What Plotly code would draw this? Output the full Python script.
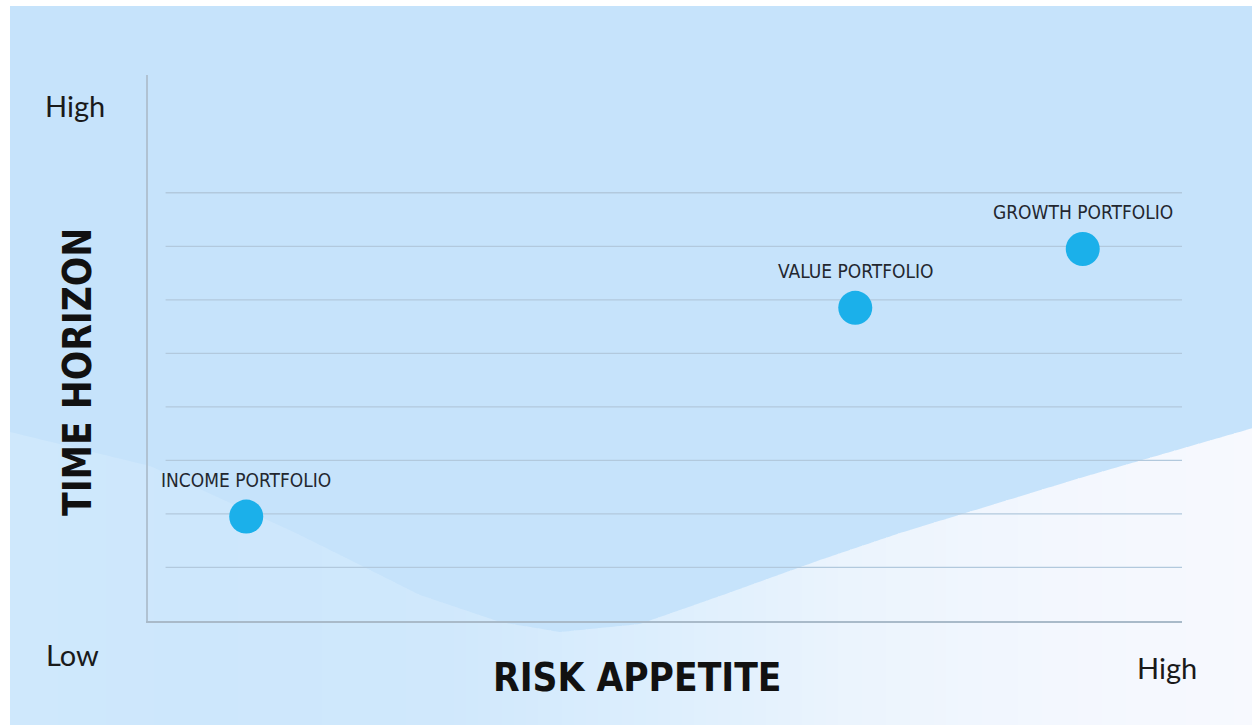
import plotly.graph_objects as go

# ---- data ----
portfolios = ["INCOME PORTFOLIO", "VALUE PORTFOLIO", "GROWTH PORTFOLIO"]
risk_appetite = [0.95, 6.84, 9.04]
time_horizon = [1.95, 5.85, 6.95]
grid_levels = [1, 2, 3, 4, 5, 6, 7, 8]
y_axis_low, y_axis_high = "Low", "High"
x_axis_high = "High"
x_title = "RISK APPETITE"
y_title = "TIME HORIZON"

W, H = 1252, 725
L, R, T, B = 148, 1182, 75, 621
PW, PH = R - L, B - T


def px2paper(x, y):
    return (x - L) / PW, (B - y) / PH


shapes = []
# base light-blue background (white border on top and left)
x0, y0 = px2paper(10, 730)
x1, y1 = px2paper(1260, 6)
shapes.append(dict(type="rect", xref="paper", yref="paper", x0=x0, y0=y0, x1=x1, y1=y1,
                   fillcolor="#c6e3fb", line=dict(width=0), layer="below"))

# lighter wave region in the lower part
wave = [(10, 432), (150, 466), (300, 535), (420, 595), (500, 622), (560, 632), (640, 624),
        (720, 596), (820, 560), (900, 533), (1080, 478), (1260, 426)]


def curve_y(x):
    for (xa, ya), (xb, yb) in zip(wave[:-1], wave[1:]):
        if xa <= x <= xb:
            t = (x - xa) / (xb - xa)
            return ya + t * (yb - ya)
    return wave[-1][1]


stops = [(10, (0xcf, 0xe8, 0xfc)), (200, (0xcd, 0xe7, 0xfc)), (450, (0xd0, 0xe8, 0xfc)),
         (650, (0xdc, 0xee, 0xfd)), (850, (0xeb, 0xf4, 0xfd)), (1050, (0xf3, 0xf7, 0xfe)),
         (1260, (0xf7, 0xf9, 0xfe))]


def col_at(x):
    for (xa, ca), (xb, cb) in zip(stops[:-1], stops[1:]):
        if xa <= x <= xb:
            t = (x - xa) / (xb - xa)
            c = [round(ca[i] + t * (cb[i] - ca[i])) for i in range(3)]
            return "rgb(%d,%d,%d)" % tuple(c)
    return "rgb(247,249,254)"


step = 12
xs = list(range(10, 1260, step)) + [1260]
for xa, xb in zip(xs[:-1], xs[1:]):
    xb2 = min(xb + 1, 1260)
    pts = []
    n = 4
    for i in range(n + 1):
        xx = xa + (xb2 - xa) * i / n
        pts.append(px2paper(xx, curve_y(xx)))
    pts.append(px2paper(xb2, 730))
    pts.append(px2paper(xa, 730))
    path = "M " + " L ".join("%.5f,%.5f" % p for p in pts) + " Z"
    shapes.append(dict(type="path", xref="paper", yref="paper", path=path,
                       fillcolor=col_at((xa + xb) / 2), line=dict(width=0), layer="below"))

# gridlines
for g in grid_levels:
    shapes.append(dict(type="line", xref="x", yref="y", x0=0.17, x1=10, y0=g, y1=g,
                       line=dict(color="#b2c9dd", width=1.3), layer="below"))

fig = go.Figure()
fig.add_trace(go.Scatter(
    x=risk_appetite, y=time_horizon, mode="markers",
    marker=dict(size=34, color="#1bb0ea", line=dict(width=0)),
    hoverinfo="skip", showlegend=False,
))

annotations = []
for name, xv, yv in zip(portfolios, risk_appetite, time_horizon):
    annotations.append(dict(x=xv, y=yv, xref="x", yref="y", text=name, showarrow=False,
                            yshift=37, xanchor="center", yanchor="middle",
                            font=dict(family="DejaVu Sans Condensed", size=19, color="#23272f")))

title_font = dict(family="DejaVu Sans Condensed", size=38.5, color="#111111", weight="bold")
lab_font = dict(family="Lato", size=29, color="#1a1a1a")
extra = [
    (y_title, 77, 372, -90, title_font),
    (x_title, 637, 677, 0, title_font),
    (y_axis_high, 75, 105, 0, lab_font),
    (y_axis_low, 72, 654, 0, lab_font),
    (x_axis_high, 1167, 667, 0, lab_font),
]
for text, px, py, ang, fnt in extra:
    ax, ay = px2paper(px, py)
    annotations.append(dict(x=ax, y=ay, xref="paper", yref="paper", text=text,
                            textangle=ang, showarrow=False, xanchor="center", yanchor="middle",
                            font=fnt))

fig.update_layout(
    width=W, height=H,
    margin=dict(l=L, r=W - R, t=T, b=H - B, pad=0),
    paper_bgcolor="white", plot_bgcolor="rgba(0,0,0,0)",
    shapes=shapes, annotations=annotations,
    xaxis=dict(range=[0, 10], showgrid=False, zeroline=False, showticklabels=False, ticks="",
               showline=True, linecolor="#a9bac9", linewidth=2, fixedrange=True),
    yaxis=dict(range=[0, 10.2], showgrid=False, zeroline=False, showticklabels=False, ticks="",
               showline=True, linecolor="#b0c2d2", linewidth=2, fixedrange=True),
)

fig.write_html("out.html", config={"displayModeBar": False},
               post_script="document.body.style.margin='0';")
